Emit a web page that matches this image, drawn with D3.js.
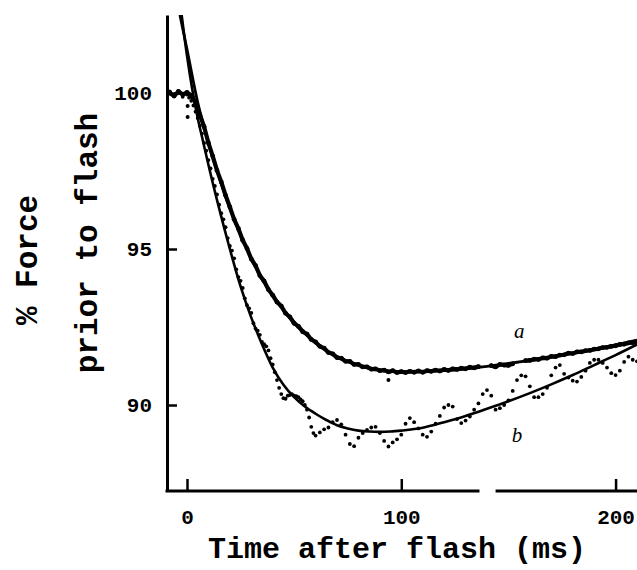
<!DOCTYPE html>
<html><head><meta charset="utf-8">
<script src="https://cdn.jsdelivr.net/npm/d3@7"></script>
<style>body{margin:0;background:#fff}svg{display:block}</style>
</head><body><svg id="chart" width="637" height="570"></svg>
<script>
// ---- data ----
const xTicks = [0, 100, 200];
const yTicks = [90, 95, 100];
const axisBreak = [136.5, 144];

const fitATime = [-3.3, 0, 5, 10, 15, 20, 25, 30, 35, 40, 45, 50, 55, 60, 65, 70, 75, 80, 85, 90, 95, 100, 110, 120, 130, 140, 150, 160, 170, 180, 190, 200, 210];
const fitA =     [102.5, 101.4, 99.7, 98.4, 97.3, 96.3, 95.45, 94.7, 94.05, 93.5, 93.05, 92.65, 92.3, 92.0, 91.75, 91.55, 91.4, 91.28, 91.18, 91.12, 91.08, 91.06, 91.07, 91.1, 91.16, 91.24, 91.33, 91.43, 91.54, 91.66, 91.79, 91.93, 92.08];

const fitBTime = [-2.5, 0, 2.5, 5, 7.5, 10, 15, 20, 25, 30, 35, 40, 45, 50, 55, 60, 65, 70, 75, 80, 85, 90, 95, 100, 110, 120, 130, 140, 150, 160, 170, 180, 190, 200, 210];
const fitB =     [102.5, 101.2, 100.1, 99.2, 98.45, 97.7, 96.3, 95.0, 93.8, 92.8, 91.95, 91.2, 90.65, 90.25, 89.95, 89.72, 89.52, 89.35, 89.25, 89.18, 89.15, 89.14, 89.15, 89.18, 89.27, 89.45, 89.65, 89.88, 90.12, 90.38, 90.66, 90.96, 91.28, 91.6, 91.94];

const dataATime = [-8,-6,-4,-2,0,2,4,6,8,10,12,14,16,18,20,22,24,26,28,30,32,34,36,38,40,42,44,46,48,50,52,54,56,58,60,62,64,66,68,70,72,74,76,78,80,82,84,86,88,90,92,94,96,98,100,102,104,106,108,110,112,114,116,118,120,122,124,126,128,130,132,134,136,138,140,142,144,146,148,150,152,154,156,158,160,162,164,166,168,170,172,174,176,178,180,182,184,186,188,190,192,194,196,198,200,202,204,206,208,210];
const dataA = [100.0,99.9,100.05,99.95,100.02,99.92,99.7,99.3,98.92,98.4,97.98,97.52,97.15,96.72,96.35,95.95,95.65,95.28,95.02,94.68,94.47,94.15,93.97,93.7,93.52,93.3,93.17,92.94,92.82,92.62,92.52,92.35,92.27,92.1,92.02,91.88,91.82,91.68,91.64,91.52,91.5,91.4,91.4,91.3,91.3,91.22,91.22,91.15,91.16,91.1,91.12,91.06,91.1,91.04,91.07,91.04,91.08,91.05,91.09,91.05,91.1,91.08,91.12,91.09,91.14,91.11,91.16,91.14,91.18,91.16,91.21,91.19,91.23,null,null,91.26,91.22,91.3,91.28,91.27,91.32,null,null,91.42,91.43,91.47,91.46,91.51,91.5,91.56,91.55,91.6,91.61,91.66,91.65,91.7,91.7,91.74,91.75,91.79,91.8,91.84,91.85,91.88,91.9,91.94,91.95,91.99,92.0,92.04];

const dataBTime = [-8,-6,-4,-2,0,1,2,3,4,5,6,7,8,9,10,11,12,13,14,15,16,17,18,19,20,21,22,23,24,25,26,27,28,29,30,31,32,33,34,35,36,37,38,39,40,41,42,43,44,45,46,47,48,49,50,51,52,53,54,55,56,57,58,59,60,62,64,66,68,70,72,74,76,78,80,82,84,86,88,90,92,94,96,98,100,102,104,106,108,110,112,114,116,118,120,122,124,126,128,130,132,134,136,138,140,142,144,146,148,150,152,154,156,158,160,162,164,166,168,170,172,174,176,178,180,182,184,186,188,190,192,194,196,198,200,202,204,206,208,210];
const dataB = [100.05,99.92,100.0,99.88,99.95,99.85,99.75,99.6,99.4,99.2,98.95,98.7,98.4,98.15,97.85,97.58,97.25,97.02,96.75,96.42,96.15,95.95,95.7,95.35,95.1,94.95,94.7,94.35,94.1,93.98,93.75,93.42,93.2,93.1,92.95,92.62,92.45,92.38,92.25,92.02,91.95,91.88,91.75,91.5,91.3,91.05,90.8,90.55,90.35,90.22,90.2,90.3,90.32,90.35,90.3,90.28,90.25,90.18,90.12,90.0,89.85,89.6,89.3,89.1,89.02,89.12,89.22,89.28,89.45,89.52,89.38,89.05,88.75,88.68,88.95,89.1,89.2,89.28,89.3,89.1,88.85,88.67,88.8,88.9,89.05,89.4,89.58,89.45,89.25,89.05,88.98,89.15,89.4,89.65,89.92,90.0,89.95,89.55,89.42,89.5,89.63,89.85,90.05,90.35,90.48,90.3,89.85,89.9,90.0,90.15,90.45,90.8,90.95,90.92,90.6,90.25,90.25,90.35,90.55,90.95,91.2,91.28,91.0,90.88,90.78,90.75,90.9,91.1,91.35,91.45,91.45,91.35,91.2,91.02,90.96,91.1,91.38,91.55,91.45,91.4];

const strayTime = [0.3, 0.3, 94];
const strayVal = [99.58, 99.23, 90.8];

const xTitle = "Time after flash (ms)";
const yTitle1 = "% Force";
const yTitle2 = "prior to flash";
const curveLabels = ["a", "b"];

// ---- drawing ----
const svg = d3.select("#chart");
const x = d3.scaleLinear().domain([-9.33, 210]).range([167, 637]);
const y = d3.scaleLinear().domain([87.244, 102.5]).range([491, 15]);
const mono = "'Liberation Mono', 'DejaVu Sans Mono', monospace";

svg.append("defs").append("clipPath").attr("id", "plotclip")
  .append("rect").attr("x", 167).attr("y", 15).attr("width", 470).attr("height", 476);

const plot = svg.append("g").attr("clip-path", "url(#plotclip)");

// fitted curves
const fitLine = d3.line().x(d => x(d[0])).y(d => y(d[1])).curve(d3.curveMonotoneX);
plot.append("path").datum(fitATime.map((t, i) => [t, fitA[i]]))
  .attr("d", fitLine).attr("fill", "none").attr("stroke", "#000").attr("stroke-width", 2.8);
plot.append("path").datum(fitBTime.map((t, i) => [t, fitB[i]]))
  .attr("d", fitLine).attr("fill", "none").attr("stroke", "#000").attr("stroke-width", 2.6);

// data a : dense noisy band
const ptsA = dataATime.map((t, i) => [t, dataA[i]]);
const bandLine = d3.line().defined(d => d[1] != null).x(d => x(d[0])).y(d => y(d[1]));
plot.append("path").datum(ptsA).attr("d", bandLine)
  .attr("fill", "none").attr("stroke", "#000").attr("stroke-width", 4.2).attr("stroke-linejoin", "round").attr("stroke-linecap", "round");
plot.selectAll("circle.a").data(ptsA.filter(d => d[1] != null)).join("circle")
  .attr("class", "a").attr("cx", d => x(d[0])).attr("cy", d => y(d[1])).attr("r", 2.4).attr("fill", "#000");

// data b : dotted
const ptsB = dataBTime.map((t, i) => [t, dataB[i]]);
plot.selectAll("circle.b").data(ptsB).join("circle")
  .attr("class", "b").attr("cx", d => x(d[0])).attr("cy", d => y(d[1])).attr("r", 1.9).attr("fill", "#000");

plot.selectAll("circle.s").data(strayTime.map((t, i) => [t, strayVal[i]])).join("circle")
  .attr("class", "s").attr("cx", d => x(d[0])).attr("cy", d => y(d[1])).attr("r", 2).attr("fill", "#000");

// y axis
const yAxis = d3.axisLeft(y).tickValues(yTicks).tickSize(-10).tickSizeOuter(0).tickPadding(15).tickFormat(d3.format("d"));
const gy = svg.append("g").attr("transform", "translate(167,0)").call(yAxis);
gy.select(".domain").attr("stroke-width", 3);
gy.selectAll(".tick line").attr("stroke-width", 2.5);
gy.selectAll("text").attr("font-family", mono).attr("font-weight", "bold").attr("font-size", 21).attr("fill", "#000");

// x axis (broken)
const xAxis = d3.axisBottom(x).tickValues(xTicks).tickSize(-12).tickSizeOuter(0).tickPadding(18).tickFormat(d3.format("d"));
const gx = svg.append("g").attr("transform", "translate(0,491)").call(xAxis);
gx.select(".domain").remove();
gx.selectAll(".tick line").attr("stroke-width", 2.5);
gx.selectAll("text").attr("font-family", mono).attr("font-weight", "bold").attr("font-size", 21).attr("fill", "#000");
gx.append("line").attr("x1", x.range()[0] - 1.5).attr("x2", x(axisBreak[0])).attr("y1", 0).attr("y2", 0).attr("stroke", "#000").attr("stroke-width", 3);
gx.append("line").attr("x1", x(axisBreak[1])).attr("x2", x.range()[1]).attr("y1", 0).attr("y2", 0).attr("stroke", "#000").attr("stroke-width", 3);

// titles
svg.append("text").attr("x", 397).attr("y", 558).attr("text-anchor", "middle")
  .attr("font-family", mono).attr("font-weight", "bold").attr("font-size", 30).text(xTitle);
svg.append("text").attr("transform", "translate(37,260) rotate(-90)").attr("text-anchor", "middle")
  .attr("font-family", mono).attr("font-weight", "bold").attr("font-size", 31).text(yTitle1);
svg.append("text").attr("transform", "translate(97,243) rotate(-90)").attr("text-anchor", "middle")
  .attr("font-family", mono).attr("font-weight", "bold").attr("font-size", 31).text(yTitle2);

// curve labels
svg.append("text").attr("x", x(155)).attr("y", y(92.37)).attr("dy", "0.35em").attr("text-anchor", "middle")
  .attr("font-family", "'Liberation Serif', serif").attr("font-style", "italic").attr("font-size", 21).text(curveLabels[0]);
svg.append("text").attr("x", x(154)).attr("y", y(89.04)).attr("dy", "0.35em").attr("text-anchor", "middle")
  .attr("font-family", "'Liberation Serif', serif").attr("font-style", "italic").attr("font-size", 21).text(curveLabels[1]);
</script></body></html>
